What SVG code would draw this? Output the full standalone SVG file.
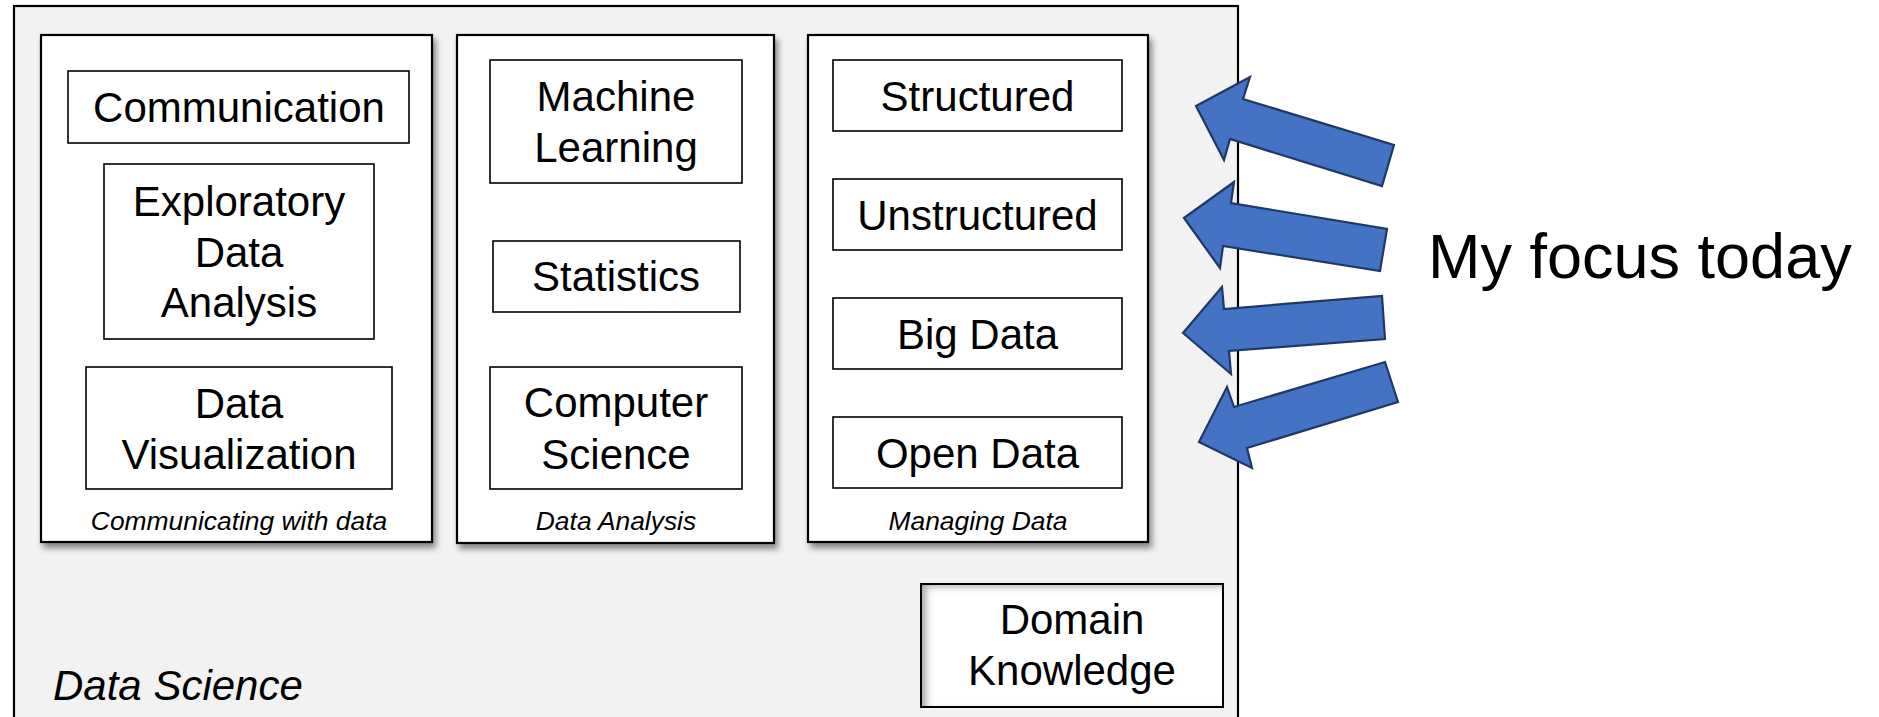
<svg xmlns="http://www.w3.org/2000/svg" width="1879" height="717" viewBox="0 0 1879 717">
  <defs>
    <style>
      .frame { fill: #f2f2f2; stroke: #000; stroke-width: 2.2; }
      .panel { fill: #fff; stroke: #000; stroke-width: 2.2; filter: url(#dropShadow); }
      .box { fill: #fff; stroke: #000; stroke-width: 1.6; }
      .lbl { font-family: "Liberation Sans", Arial, sans-serif; font-size: 42px; fill: #000; text-anchor: middle; }
      .cap { font-family: "Liberation Sans", Arial, sans-serif; font-size: 26.4px; font-style: italic; fill: #000; text-anchor: middle; }
      .title { font-family: "Liberation Sans", Arial, sans-serif; font-size: 42px; font-style: italic; fill: #000; }
      .focus { font-family: "Liberation Sans", Arial, sans-serif; font-size: 63px; fill: #000; }
      .arrow { fill: #4472c4; stroke: #1f3864; stroke-width: 2.2; stroke-linejoin: miter; }
    </style>
    <filter id="dropShadow" x="-5%" y="-5%" width="115%" height="115%">
      <feDropShadow dx="3" dy="5" stdDeviation="3" flood-color="#000" flood-opacity="0.45"/>
    </filter>
    <!-- inset shadow along the left and top inner edges -->
    <filter id="innerShadow" x="-20%" y="-20%" width="140%" height="140%">
      <feFlood flood-color="#000" flood-opacity="0.6" result="c"/>
      <feComposite in="c" in2="SourceAlpha" operator="out" result="outside"/>
      <feGaussianBlur in="outside" stdDeviation="3.5" result="blur"/>
      <feOffset in="blur" dx="6" dy="3" result="off"/>
      <feComposite in="off" in2="SourceAlpha" operator="in" result="inner"/>
      <feMerge>
        <feMergeNode in="SourceGraphic"/>
        <feMergeNode in="inner"/>
      </feMerge>
    </filter>
  </defs>

  <rect width="1879" height="717" fill="#fff"/>

  <!-- outer Data Science frame -->
  <g id="data-science">
    <rect class="frame" x="14" y="6" width="1224" height="720"/>
    <text class="title" x="53" y="700">Data Science</text>
  </g>

  <!-- Communicating with data -->
  <g id="panel-communicating">
    <rect class="panel" x="41" y="35" width="391" height="507"/>
    <text class="cap" x="239" y="530">Communicating with data</text>
  </g>
  <g id="node-communication">
    <rect class="box" x="68" y="71" width="341" height="72"/>
    <text class="lbl" x="239" y="122">Communication</text>
  </g>
  <g id="node-eda">
    <rect class="box" x="104" y="164" width="270" height="175"/>
    <text class="lbl" x="239" y="216">Exploratory</text>
    <text class="lbl" x="239" y="267">Data</text>
    <text class="lbl" x="239" y="317">Analysis</text>
  </g>
  <g id="node-dataviz">
    <rect class="box" x="86" y="367" width="306" height="122"/>
    <text class="lbl" x="239" y="418">Data</text>
    <text class="lbl" x="239" y="469">Visualization</text>
  </g>

  <!-- Data Analysis -->
  <g id="panel-analysis">
    <rect class="panel" x="457" y="35" width="317" height="508"/>
    <text class="cap" x="616" y="530">Data Analysis</text>
  </g>
  <g id="node-ml">
    <rect class="box" x="490" y="60" width="252" height="123"/>
    <text class="lbl" x="616" y="111">Machine</text>
    <text class="lbl" x="616" y="162">Learning</text>
  </g>
  <g id="node-statistics">
    <rect class="box" x="493" y="241" width="247" height="71"/>
    <text class="lbl" x="616" y="291">Statistics</text>
  </g>
  <g id="node-cs">
    <rect class="box" x="490" y="367" width="252" height="122"/>
    <text class="lbl" x="616" y="417">Computer</text>
    <text class="lbl" x="616" y="469">Science</text>
  </g>

  <!-- Managing Data -->
  <g id="panel-managing">
    <rect class="panel" x="808" y="35" width="340" height="507"/>
    <text class="cap" x="978" y="530">Managing Data</text>
  </g>
  <g id="node-structured">
    <rect class="box" x="833" y="60" width="289" height="71"/>
    <text class="lbl" x="977.5" y="111">Structured</text>
  </g>
  <g id="node-unstructured">
    <rect class="box" x="833" y="179" width="289" height="71"/>
    <text class="lbl" x="977.5" y="230">Unstructured</text>
  </g>
  <g id="node-bigdata">
    <rect class="box" x="833" y="298" width="289" height="71"/>
    <text class="lbl" x="977.5" y="349">Big Data</text>
  </g>
  <g id="node-opendata">
    <rect class="box" x="833" y="417" width="289" height="71"/>
    <text class="lbl" x="977.5" y="468">Open Data</text>
  </g>

  <!-- Domain Knowledge -->
  <g id="node-domain">
    <rect x="921" y="584" width="302" height="123" fill="#fff" filter="url(#innerShadow)"/>
    <rect x="921" y="584" width="302" height="123" fill="none" stroke="#000" stroke-width="2"/>
    <text class="lbl" x="1072" y="634">Domain</text>
    <text class="lbl" x="1072" y="685">Knowledge</text>
  </g>

  <!-- block arrows pointing at the data topics -->
  <g id="connectors">
    <polygon class="arrow" points="1196,106 1250,77 1243,99 1394,145 1382,186 1230,139 1224,160"/>
    <polygon class="arrow" points="1184,218 1234,182 1231,203 1387,229 1380,271 1223,246 1220,268"/>
    <polygon class="arrow" points="1183,333 1222,287 1224,309 1382,296 1385,339 1229,351 1231,374"/>
    <polygon class="arrow" points="1199,442 1227,387 1234,407 1385,362 1398,402 1247,448 1252,468"/>
  </g>

  <g id="label-focus">
    <text class="focus" x="1428" y="278">My focus today</text>
  </g>
</svg>
